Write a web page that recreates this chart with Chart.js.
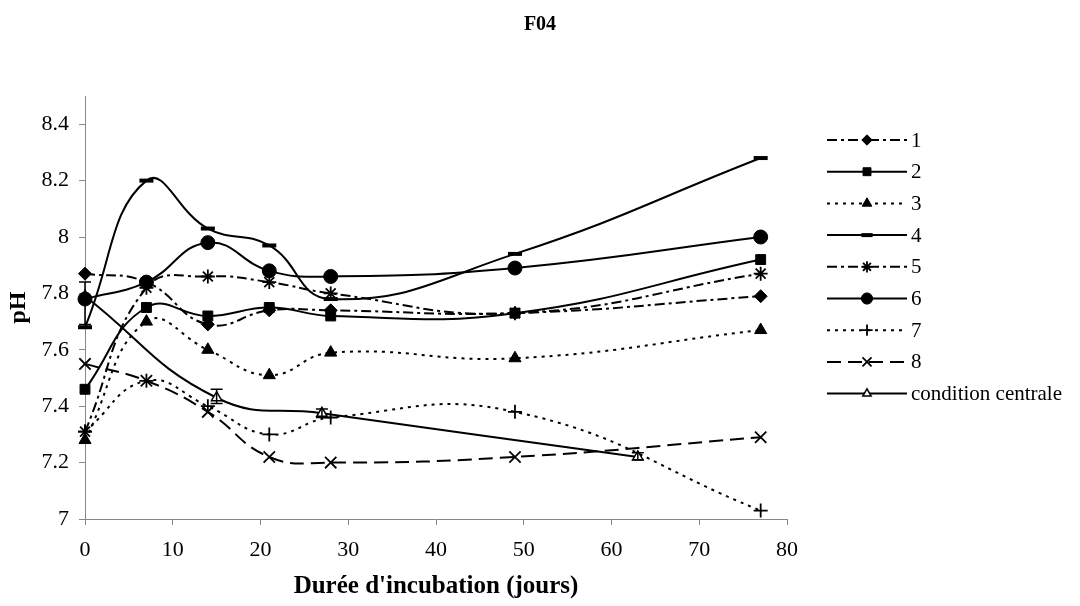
<!DOCTYPE html>
<html>
<head>
<meta charset="utf-8">
<script src="https://cdn.jsdelivr.net/npm/chart.js@4.4.1/dist/chart.umd.min.js"></script>
<style>
html,body{margin:0;padding:0;background:#fff;}
#wrap{width:1080px;height:606px;position:relative;}
</style>
</head>
<body>
<div id="wrap"><canvas id="c" width="1080" height="606"></canvas></div>
<script>
// ---- data ----
const days = [0, 7, 14, 21, 28, 49, 77];
const s1 = [7.87, 7.84, 7.69, 7.74, 7.74, 7.73, 7.79];
const s2 = [7.46, 7.75, 7.72, 7.75, 7.72, 7.73, 7.92];
const s3 = [7.28, 7.70, 7.60, 7.51, 7.59, 7.57, 7.67];
const s4 = [7.68, 8.20, 8.03, 7.97, 7.78, 7.94, 8.28];
const s5 = [7.31, 7.82, 7.86, 7.84, 7.80, 7.73, 7.87];
const s6 = [7.78, 7.84, 7.98, 7.88, 7.86, 7.89, 8.00];
const s7 = [7.31, 7.49, 7.40, 7.30, 7.36, 7.38, 7.03];
const s8 = [7.55, 7.49, 7.38, 7.22, 7.20, 7.22, 7.29];
const ccDays = [0, 15, 27, 63];
const ccMean = [7.79, 7.43, 7.375, 7.22];
const ccLow  = [7.69, 7.41, 7.36, 7.21];
const ccHigh = [7.84, 7.46, 7.39, 7.235];
const seriesLabels = ['1','2','3','4','5','6','7','8','condition centrale'];
const yTicks = [7, 7.2, 7.4, 7.6, 7.8, 8, 8.2, 8.4];
const chartTitle = 'F04';

const toXY = (xs, ys) => xs.map((x, i) => ({x: x, y: ys[i]}));
const SERIF = "'Liberation Serif', 'Times New Roman', serif";

function ds(label, xs, ys, style, dash, radius, extra) {
  return Object.assign({
    label: label,
    data: toXY(xs, ys),
    borderColor: '#000',
    backgroundColor: '#000',
    borderWidth: 2,
    borderDash: dash,
    pointStyle: style,
    pointRadius: radius,
    pointHoverRadius: radius,
    pointBackgroundColor: '#000',
    pointBorderColor: '#000',
    pointBorderWidth: 1,
    tension: 0.45,
    clip: false,
    fill: false
  }, extra || {});
}

const DASHDOT = [10, 4, 3, 4];
const DOT = [3, 5];
const DASH = [14, 7];

const datasets = [
  ds(seriesLabels[0], days, s1, 'rectRot', DASHDOT, 6.5),
  ds(seriesLabels[1], days, s2, 'rect', [], 7),
  ds(seriesLabels[2], days, s3, 'triangle', DOT, 7),
  ds(seriesLabels[3], days, s4, 'line', [], 7, {pointBorderWidth: 4}),
  ds(seriesLabels[4], days, s5, 'star', DASHDOT, 7, {pointBorderWidth: 1.8}),
  ds(seriesLabels[5], days, s6, 'circle', [], 7),
  ds(seriesLabels[6], days, s7, 'cross', DOT, 7, {pointBorderWidth: 1.8}),
  ds(seriesLabels[7], days, s8, 'crossRot', DASH, 8, {pointBorderWidth: 1.8}),
  ds(seriesLabels[8], ccDays, ccMean, 'triangle', [], 6, {pointBackgroundColor: '#fff', pointBorderWidth: 1.5})
];

const errorBars = {
  id: 'errorBars',
  afterDatasetsDraw(chart) {
    const ctx = chart.ctx, xs = chart.scales.x, ys = chart.scales.y;
    ctx.save();
    ctx.strokeStyle = '#000';
    ctx.lineWidth = 1.5;
    ctx.setLineDash([]);
    ccDays.forEach((d, i) => {
      const px = xs.getPixelForValue(d);
      const lo = ys.getPixelForValue(ccLow[i]);
      const hi = ys.getPixelForValue(ccHigh[i]);
      ctx.beginPath();
      ctx.moveTo(px, lo); ctx.lineTo(px, hi);
      ctx.moveTo(px - 6, lo); ctx.lineTo(px + 6, lo);
      ctx.moveTo(px - 6, hi); ctx.lineTo(px + 6, hi);
      ctx.stroke();
    });
    ctx.restore();
  }
};

const customLegend = {
  id: 'customLegend',
  afterDraw(chart) {
    const ctx = chart.ctx;
    ctx.save();
    // title
    ctx.fillStyle = '#000';
    ctx.font = 'bold 20px ' + SERIF;
    ctx.textAlign = 'center';
    ctx.textBaseline = 'middle';
    ctx.fillText(chartTitle, 540, 25);
    chart.data.datasets.forEach((d, i) => {
      const y = 140 + i * 31.7;
      ctx.setLineDash(d.borderDash || []);
      ctx.strokeStyle = '#000';
      ctx.lineWidth = 2;
      ctx.beginPath();
      ctx.moveTo(827, y); ctx.lineTo(907, y);
      ctx.stroke();
      ctx.setLineDash([]);
      ctx.fillStyle = d.pointBackgroundColor;
      ctx.strokeStyle = '#000';
      ctx.lineWidth = d.pointBorderWidth;
      Chart.helpers.drawPoint(ctx, {
        pointStyle: d.pointStyle,
        radius: d.pointRadius * 0.8,
        rotation: 0,
        borderWidth: d.pointBorderWidth
      }, 867, y);
      ctx.fillStyle = '#000';
      ctx.font = '21px ' + SERIF;
      ctx.textAlign = 'left';
      ctx.textBaseline = 'middle';
      ctx.fillText(d.label, 911, y + 1);
    });
    ctx.restore();
  }
};

new Chart(document.getElementById('c'), {
  type: 'line',
  data: { datasets: datasets },
  plugins: [errorBars, customLegend],
  options: {
    responsive: false,
    animation: false,
    events: [],
    layout: { padding: { top: 96, right: 293, left: 0, bottom: 0 } },
    plugins: {
      legend: { display: false },
      tooltip: { enabled: false },
      title: { display: false }
    },
    scales: {
      x: {
        type: 'linear',
        min: 0, max: 80,
        afterFit(s) { s.height = 87; },
        ticks: { stepSize: 10, color: '#000', font: { family: SERIF, size: 22 }, padding: 12, maxRotation: 0 },
        grid: { display: true, drawOnChartArea: false, tickLength: 6, color: '#888' },
        border: { color: '#888', width: 1 },
        title: { display: true, text: "Durée d'incubation (jours)", color: '#000',
                 font: { family: SERIF, size: 25, weight: 'bold' }, padding: { top: 0, bottom: 4 } }
      },
      y: {
        type: 'linear',
        min: 7, max: 8.5,
        afterFit(s) { s.width = 85; },
        afterBuildTicks(s) { s.ticks = yTicks.map(v => ({ value: v })); },
        ticks: { color: '#000', font: { family: SERIF, size: 22 }, padding: 10,
                 callback: v => String(Math.round(v * 10) / 10) },
        grid: { display: true, drawOnChartArea: false, tickLength: 6, color: '#888' },
        border: { color: '#888', width: 1 },
        title: { display: true, text: 'pH', color: '#000',
                 font: { family: SERIF, size: 24, weight: 'bold' }, padding: { top: 4, bottom: 0 } }
      }
    }
  }
});
</script>
</body>
</html>
